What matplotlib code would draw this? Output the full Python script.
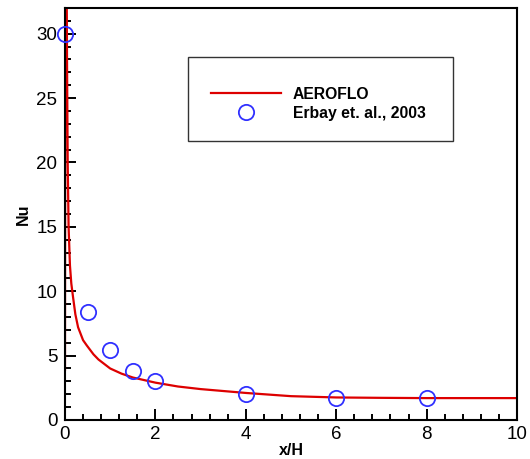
import matplotlib.pyplot as plt
from matplotlib.patches import Rectangle
from matplotlib.ticker import MultipleLocator

plt.rcParams['font.family'] = ['Liberation Sans', 'DejaVu Sans']

# AEROFLO curve
x_aeroflo = [0.0, 0.015, 0.03, 0.045, 0.06, 0.08, 0.11, 0.14, 0.18, 0.23, 0.29,
             0.4, 0.48, 0.63, 0.74, 1.0, 1.25, 1.5, 2.0, 2.5, 3.0, 4.0, 5.0,
             6.0, 7.0, 8.0, 10.0]
nu_aeroflo = [3.9, 60.0, 40.0, 28.0, 20.0, 15.0, 12.0, 10.6, 9.5, 8.2, 7.2,
              6.2, 5.8, 5.1, 4.7, 4.0, 3.6, 3.3, 2.9, 2.6, 2.4, 2.1, 1.85,
              1.75, 1.72, 1.7, 1.7]

# Erbay et al., 2003 (experimental points)
x_erbay = [0.0, 0.5, 1.0, 1.5, 2.0, 4.0, 6.0, 8.0]
nu_erbay = [30.0, 8.4, 5.4, 3.8, 3.0, 2.05, 1.7, 1.72]

fig = plt.figure(figsize=(5.30, 4.59), dpi=100)
ax = fig.add_axes([0.1226, 0.085, 0.853, 0.8976])

ax.plot(x_aeroflo, nu_aeroflo, color='#dd0000', lw=1.6, label='AEROFLO', zorder=2)
ax.plot(x_erbay, nu_erbay, ls='none', marker='o', ms=11, mfc='none',
        mec='#3030ff', mew=1.3, label='Erbay et. al., 2003', zorder=3, clip_on=False)

ax.set_xlim(0, 10)
ax.set_ylim(0, 32)
ax.xaxis.set_major_locator(MultipleLocator(2))
ax.xaxis.set_minor_locator(MultipleLocator(0.4))
ax.yaxis.set_major_locator(MultipleLocator(5))
ax.yaxis.set_minor_locator(MultipleLocator(1))
ax.tick_params(which='both', direction='in', width=1.4, labelsize=13.5,
               top=False, right=False)
ax.tick_params(which='major', length=8)
ax.tick_params(axis='x', which='major', pad=4)
ax.tick_params(axis='y', which='major', pad=5.5)
ax.tick_params(which='minor', length=4)
for s in ax.spines.values():
    s.set_linewidth(1.5)

ax.set_xlabel('x/H', fontsize=11.5, fontweight='bold', labelpad=0)
ax.set_ylabel('Nu', fontsize=11.5, fontweight='bold', labelpad=4)

# legend box
ax.add_patch(Rectangle((0.272, 0.677), 0.586, 0.204, transform=ax.transAxes,
                       fill=True, fc='white', ec='#333333', lw=1.0, zorder=4))
leg = ax.legend(loc='upper left', bbox_to_anchor=(0.322, 0.809), frameon=False,
                prop={'weight': 'bold', 'size': 11.3}, handlelength=4.5,
                handletextpad=0.75, labelspacing=0.25, borderpad=0,
                borderaxespad=0)
leg.set_zorder(5)

fig.savefig('out.png', dpi=100)
